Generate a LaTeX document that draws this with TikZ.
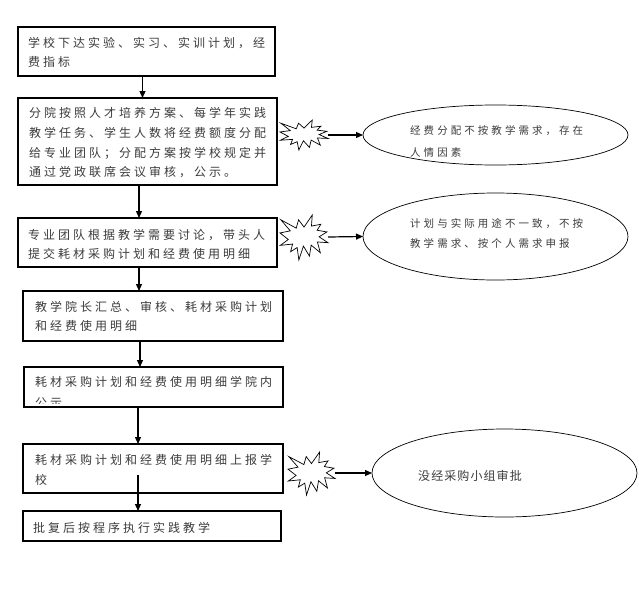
\documentclass[tikz,border=0pt]{standalone}
\usepackage{fontspec}
\setmainfont{Noto Sans CJK SC}
\newfontfamily\cjkbox{Noto Sans CJK SC}[LetterSpace=25]
\newfontfamily\cjkell{Noto Sans CJK SC}[LetterSpace=29]
\newfontfamily\cjkellb{Noto Sans CJK SC}[LetterSpace=9]
\usetikzlibrary{shapes.geometric,arrows.meta}
\definecolor{txt}{RGB}{60,60,60}
\newcommand\drawseal[4]{%
  \begin{scope}[shift={(#1,#2)},x=#3pt,y=#4pt]
    \draw[sealst] (108,58) -- (145.22,0) -- (141.55,53.25) -- (183.80,44.57)
      -- (167.02,73.15) -- (210.97,81.37) -- (176.07,104.75) -- (216,132.90)
      -- (168.37,129.42) -- (181.45,180.95) -- (140.20,144.57) -- (132.47,197.37)
      -- (105.32,149.35) -- (84.85,216) -- (77.15,156.27) -- (47.62,176.17)
      -- (56.67,139.37) -- (1.35,145.87) -- (37.22,117.75) -- (0,86.15)
      -- (46.27,76.17) -- (3.70,22.95) -- (73.12,63.20) -- (83.52,22.95) -- cycle;
  \end{scope}}
\begin{document}
\begin{tikzpicture}[x=1pt,y=-1pt,
  box/.style={draw=black,line width=1.2pt,rectangle,inner sep=0pt,outer sep=0pt,anchor=north west},
  ell/.style={draw=black,line width=0.7pt,ellipse,inner sep=0pt,outer sep=0pt},
  arr/.style={line width=1.2pt,-{Triangle[length=7pt,width=6pt]}},
  sealst/.style={draw=black,line width=0.7pt,fill=white,line join=miter},
  btxt/.style={anchor=north west,inner sep=0pt,align=left,text=txt},
  etxt/.style={anchor=north west,inner sep=0pt,align=left,text=txt}]
\useasboundingbox[fill=white] (0,0) rectangle (639,613);

% boxes
\node[box,minimum width=257pt,minimum height=49pt] (b1) at (18,27) {};
\node[box,minimum width=259pt,minimum height=87pt] (b2) at (18,98) {};
\node[box,minimum width=259pt,minimum height=49pt] (b3) at (18,218) {};
\node[box,minimum width=260pt,minimum height=50pt] (b4) at (23,291) {};
\node[box,minimum width=259pt,minimum height=40pt] (b5) at (24,367) {};
\node[box,minimum width=260pt,minimum height=49pt] (b6) at (23,444) {};
\node[box,minimum width=258pt,minimum height=30pt] (b7) at (23,511) {};

% box texts
\node[btxt,font={\cjkbox\fontsize{12}{19}\selectfont}] (t1) at (28,37.6)
  {学校下达实验、实习、实训计划，经\\费指标};
\node[btxt,font={\cjkbox\fontsize{12}{19.6}\selectfont}] (t2) at (29,107.6)
  {分院按照人才培养方案、每学年实践\\教学任务、学生人数将经费额度分配\\给专业团队；分配方案按学校规定并\\通过党政联席会议审核，公示。};
\node[btxt,font={\cjkbox\fontsize{12}{18.5}\selectfont}] (t3) at (28,229.6)
  {专业团队根据教学需要讨论，带头人\\提交耗材采购计划和经费使用明细};
\node[btxt,font={\cjkbox\fontsize{12}{19}\selectfont}] (t4) at (35,301.6)
  {教学院长汇总、审核、耗材采购计划\\和经费使用明细};
\begin{scope}
  \clip (24,367) rectangle (283,403);
  \node[btxt,font={\cjkbox\fontsize{12}{21}\selectfont}] (t5) at (35,376.6)
    {耗材采购计划和经费使用明细学院内\\公示};
\end{scope}
\node[btxt,font={\cjkbox\fontsize{12}{20}\selectfont}] (t6) at (35,454.6)
  {耗材采购计划和经费使用明细上报学\\校};
\node[btxt,font={\cjkbox\fontsize{12}{19}\selectfont}] (t7) at (33,522.6)
  {批复后按程序执行实践教学};

% ellipses
\node[ell,minimum width=265pt,minimum height=60pt] (e1) at (495.5,135) {};
\node[ell,minimum width=265pt,minimum height=87pt] (e2) at (495.5,236.5) {};
\node[ell,minimum width=265pt,minimum height=88pt] (e3) at (504.5,473) {};
\node[etxt,font={\cjkell\fontsize{10.5}{22}\selectfont}] (te1) at (410,125.3)
  {经费分配不按教学需求，存在\\人情因素};
\node[etxt,font={\cjkell\fontsize{10.5}{20}\selectfont}] (te2) at (410,218.3)
  {计划与实际用途不一致，不按\\教学需求、按个人需求申报};
\node[etxt,font={\cjkellb\fontsize{12}{16}\selectfont}] (te3) at (418,470.6)
  {没经采购小组审批};

% starbursts
\drawseal{280}{120}{0.2222}{-0.1389}
\drawseal{280}{215}{0.2222}{-0.2083}
\drawseal{288}{452}{0.2176}{-0.1991}

% coordinates for connectors
\coordinate (v1) at (142.5,0);
\coordinate (v2) at (139,0);
\coordinate (v3) at (139,0);
\coordinate (v4) at (140,0);
\coordinate (v5) at (138,0);
\coordinate (a6) at (138,475);
\coordinate (s1e) at (328,135);
\coordinate (s2e) at (328,237);
\coordinate (s3e) at (335,473);

% connectors
\draw[arr] (b1.south -| v1) -- (b2.north -| v1);
\draw[arr] (b2.south -| v2) -- (b3.north -| v2);
\draw[arr] (b3.south -| v3) -- (b4.north -| v3);
\draw[arr] (b4.south -| v4) -- (b5.north -| v4);
\draw[arr] (b5.south -| v5) -- (b6.north -| v5);
\draw[arr] (a6) -- (b7.north -| a6);
\draw[arr] (s1e) -- (e1.west);
\draw[arr] (s2e) -- (e2.west);
\draw[arr] (s3e) -- (e3.west);
\end{tikzpicture}
\end{document}
